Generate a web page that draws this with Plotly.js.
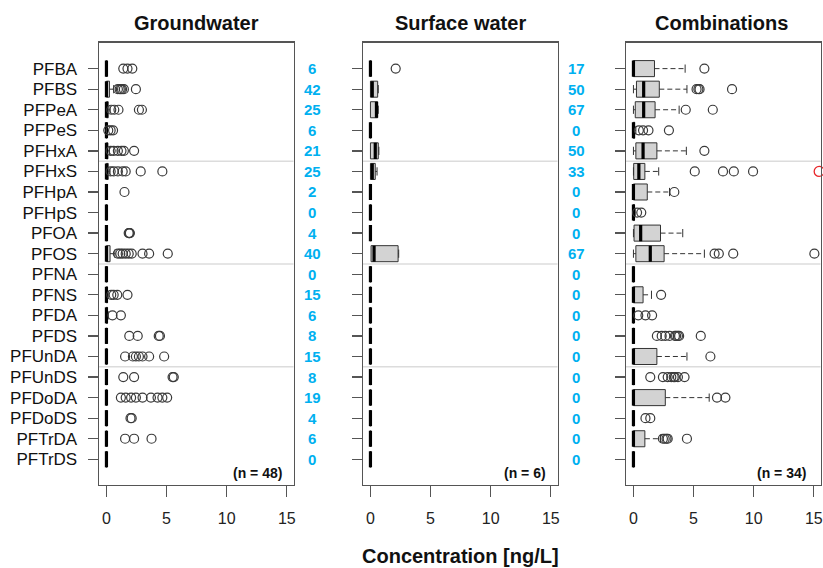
<!DOCTYPE html>
<html><head><meta charset="utf-8">
<script src="https://cdn.plot.ly/plotly-3.0.1.min.js"></script>
<style>html,body{margin:0;padding:0;background:#fff}#chart{width:823px;height:568px}</style>
</head><body><div id="chart"></div>
<script>
// ---------- DATA ----------
const compounds = ["PFBA","PFBS","PFPeA","PFPeS","PFHxA","PFHxS","PFHpA","PFHpS","PFOA","PFOS",
  "PFNA","PFNS","PFDA","PFDS","PFUnDA","PFUnDS","PFDoDA","PFDoDS","PFTrDA","PFTrDS"];
const panelTitles = ["Groundwater","Surface water","Combinations"];
const sampleSizes = ["(n = 48)","(n = 6)","(n = 34)"];
const xTicks = [0,5,10,15];

// detection frequencies [%]
const gwPct = [6,42,25,6,21,25,2,0,4,40,0,15,6,8,15,8,19,4,6,0];
const swPct = [17,50,67,0,50,33,0,0,0,67,0,0,0,0,0,0,0,0,0,0];

// Groundwater box statistics
const gwQ1  = [0,0,0,0,0,0,0,0,0,0,0,0,0,0,0,0,0,0,0,0];
const gwMed = [0,0,0,0,0,0,0,0,0,0,0,0,0,0,0,0,0,0,0,0];
const gwQ3  = [0,0.25,0.15,0,0.12,0.15,0,0,0,0.3,0,0.08,0.08,0,0,0,0,0,0,0];
const gwLo  = [0,0,0,0,0,0,0,0,0,0,0,0,0,0,0,0,0,0,0,0];
const gwHi  = [0,0.6,0.3,0,0.25,0.3,0,0,0,0.7,0,0.15,0.15,0,0,0,0,0,0,0];
const gwOut = [
  [1.4,1.75,2.15],[0.95,1.1,1.2,1.3,1.45,2.45],[0.4,0.65,1.0,2.7,2.95],[0.15,0.35,0.55],
  [0.35,0.6,0.95,1.25,1.45,2.3],[0.35,0.6,0.95,1.35,1.6,2.85,4.65],[1.5],[],[1.85,1.9,1.95],
  [0.95,1.15,1.35,1.6,1.85,2.1,3.0,3.55,5.1],[],[0.4,0.6,0.9,1.75],[0.5,1.2],[1.9,2.6,4.35,4.45],
  [1.55,2.2,2.45,2.7,3.0,3.55,4.8],[1.4,2.3,5.5,5.6],[1.2,1.6,2.05,2.45,3.0,3.7,4.25,4.65,5.05],
  [2.0,2.1],[1.55,2.3,3.75],[]];

// Surface water box statistics
const swQ1  = [0,0,0,0,0,0,0,0,0,0.05,0,0,0,0,0,0,0,0,0,0];
const swMed = [0,0.15,0.5,0,0.4,0.15,0,0,0,0.3,0,0,0,0,0,0,0,0,0,0];
const swQ3  = [0,0.6,0.6,0,0.65,0.4,0,0,0,2.3,0,0,0,0,0,0,0,0,0,0];
const swLo  = [0,0,0,0,0,0,0,0,0,0.05,0,0,0,0,0,0,0,0,0,0];
const swHi  = [0,0.65,0.65,0,0.7,0.55,0,0,0,2.35,0,0,0,0,0,0,0,0,0,0];
const swOut = [[2.1],[],[],[],[],[],[],[],[],[],[],[],[],[],[],[],[],[],[],[]];

// Combinations box statistics
const cbQ1  = [0,0.25,0.15,0,0.2,0.02,0,0,0.05,0.2,0,0,0,0,0,0,0,0,0,0];
const cbMed = [0,0.85,0.85,0,0.8,0.45,0,0,0.6,1.4,0,0,0,0,0,0,0,0,0,0];
const cbQ3  = [1.75,2.15,1.8,0.1,1.95,0.95,1.15,0.08,2.25,2.55,0,0.8,0,0,1.95,0,2.65,0,0.95,0];
const cbLo  = [0,0,0,0,0,0,0,0,0,0,0,0,0,0,0,0,0,0,0,0];
const cbHi  = [4.3,4.45,3.8,0.2,4.4,2.1,3.0,0.15,4.1,5.9,0,1.5,0,0,4.45,0,6.3,0,2.25,0];
const cbOut = [
  [5.9],[5.25,5.4,5.5,8.2],[4.35,6.6],[0.45,0.8,1.25,2.95],[5.9],[5.1,7.45,8.35,9.95],[3.4],
  [0.3,0.65],[],[6.75,7.1,8.3,15.05],[],[2.3],[0.4,1.0,1.55],
  [1.95,2.35,2.65,3.0,3.45,3.55,3.7,3.8,5.6],[6.4],[1.4,2.45,2.85,3.15,3.35,3.45,3.7,4.25],
  [6.95,7.65],[1.0,1.4],[2.45,2.6,2.75,2.85,4.45],[]];
const cbFlagCompound = "PFHxS";
const cbFlagValue = 15.45;

// ---------- DRAWING ----------
const W = 823, H = 568;
const FONT = "Liberation Sans, Arial, Helvetica, sans-serif";
const idx = compounds.map((_, i) => i);
const BOXW = 0.78, CAPW = 0.2;
const panelsPx = [[99, 293.5], [363, 557.5], [626, 820.5]];
const yTopPx = 42.5, yBotPx = 485;

function panelTraces(q1, med, q3, lo, hi, outs, s) {
  const xa = 'x' + s, ya = 'y' + s;
  const tr = [];
  tr.push({type:'box', orientation:'h', y: idx, q1: q1, median: med, q3: q3,
    lowerfence: q1, upperfence: q3, width: BOXW, whiskerwidth: 0, boxpoints: false,
    fillcolor: '#D3D3D3', line: {color: '#333', width: 1},
    xaxis: xa, yaxis: ya, hoverinfo: 'skip', showlegend: false});
  // dashed whiskers
  const wx = [], wy = [], cx = [], cy = [];
  idx.forEach(i => {
    if (hi[i] > q3[i]) { wx.push(q3[i], hi[i], null); wy.push(i, i, null);
      cx.push(hi[i], hi[i], null); cy.push(i - CAPW, i + CAPW, null); }
    if (lo[i] < q1[i]) { wx.push(lo[i], q1[i], null); wy.push(i, i, null);
      cx.push(lo[i], lo[i], null); cy.push(i - CAPW, i + CAPW, null); }
  });
  tr.push({type:'scatter', mode:'lines', x: wx, y: wy, line:{color:'#333', width:1, dash:'5px,3px'},
    xaxis: xa, yaxis: ya, hoverinfo:'skip', showlegend:false});
  tr.push({type:'scatter', mode:'lines', x: cx, y: cy, line:{color:'#333', width:1},
    xaxis: xa, yaxis: ya, hoverinfo:'skip', showlegend:false});
  // thick medians
  const mx = [], my = [];
  idx.forEach(i => { mx.push(med[i], med[i], null); my.push(i - BOXW/2, i + BOXW/2, null); });
  tr.push({type:'scatter', mode:'lines', x: mx, y: my, line:{color:'#000', width:3.2},
    xaxis: xa, yaxis: ya, hoverinfo:'skip', showlegend:false});
  // outliers
  const ox = [], oy = [];
  outs.forEach((arr, i) => arr.forEach(v => { ox.push(v); oy.push(i); }));
  tr.push({type:'scatter', mode:'markers', x: ox, y: oy,
    marker:{symbol:'circle-open', size:9, color:'#3a3a3a', line:{width:1.2, color:'#3a3a3a'}},
    xaxis: xa, yaxis: ya, hoverinfo:'skip', showlegend:false});
  return tr;
}

const data = [].concat(
  panelTraces(gwQ1, gwMed, gwQ3, gwLo, gwHi, gwOut, ''),
  panelTraces(swQ1, swMed, swQ3, swLo, swHi, swOut, '2'),
  panelTraces(cbQ1, cbMed, cbQ3, cbLo, cbHi, cbOut, '3')
);
data.push({type:'scatter', mode:'markers', x:[cbFlagValue], y:[compounds.indexOf(cbFlagCompound)],
  marker:{symbol:'circle-open', size:10, color:'#e8262a', line:{width:1.3, color:'#e8262a'}},
  cliponaxis:false, xaxis:'x3', yaxis:'y3', hoverinfo:'skip', showlegend:false});

const layout = {width: W, height: H, margin:{l:0, r:0, t:0, b:0},
  paper_bgcolor:'#fff', plot_bgcolor:'#fff', showlegend:false,
  font:{family: FONT, color:'#111'}, annotations: [], shapes: []};

const yDom = [1 - yBotPx / H, 1 - yTopPx / H];
['', '2', '3'].forEach((s, p) => {
  layout['xaxis' + s] = {domain:[panelsPx[p][0] / W, panelsPx[p][1] / W], range:[-0.62, 15.56],
    anchor:'y' + s, tickvals: xTicks, ticks:'outside', ticklen:11, tickwidth:1.3, tickcolor:'#555',
    showline:true, mirror:true, linecolor:'#555', linewidth:1.4, showgrid:false, zeroline:false,
    tickfont:{size:16, color:'#222'}, ticklabelstandoff:7, fixedrange:true};
  layout['yaxis' + s] = {domain: yDom, range:[20.25, -1.27], anchor:'x' + s,
    tickvals: idx, ticktext: compounds, showticklabels: p === 0, ticks:'outside', ticklen:10,
    tickwidth:1.3, tickcolor:'#555', showline:true, mirror:true, linecolor:'#555', linewidth:1.4,
    showgrid:false, zeroline:false, tickfont:{size:17, color:'#111'}, ticklabelstandoff:7,
    fixedrange:true};
  // separators
  [4.5, 9.5, 14.5].forEach(yv => layout.shapes.push({type:'line', xref:'x' + s + ' domain',
    yref:'y' + s, x0:0, x1:1, y0:yv, y1:yv, line:{color:'#dcdcdc', width:1.5}, layer:'below'}));
});

// panel titles
const titleX = [196.7, 460, 721];
panelTitles.forEach((t, p) => layout.annotations.push({text:'<b>' + t + '</b>', xref:'paper',
  yref:'paper', x: titleX[p] / W, y: 1 - 22.7 / H, xanchor:'center', yanchor:'middle',
  showarrow:false, font:{size:20, color:'#111', family: FONT}}));
// sample sizes
const nRight = [0.951, 0.953, 0.937];
const xrefs = ['x', 'x2', 'x3'];
sampleSizes.forEach((t, p) => layout.annotations.push({text:'<b>' + t + '</b>',
  xref: xrefs[p] + ' domain', yref:'paper', x: nRight[p], y: 1 - 473 / H, xanchor:'right',
  yanchor:'middle', showarrow:false, font:{size:14, color:'#111', family: FONT}}));
// detection frequencies
const pctX = [312.4, 576];
[gwPct, swPct].forEach((arr, c) => arr.forEach((v, i) => layout.annotations.push({
  text:'<b>' + v + '</b>', xref:'paper', yref:'y', x: pctX[c] / W, y: i, xanchor:'center',
  yanchor:'middle', showarrow:false, font:{size:15, color:'#00B0F0', family: FONT}})));
// x title
layout.annotations.push({text:'<b>Concentration [ng/L]</b>', xref:'paper', yref:'paper',
  x: 460 / W, y: 1 - 556 / H, xanchor:'center', yanchor:'middle', showarrow:false,
  font:{size:20, color:'#111', family: FONT}});

Plotly.newPlot('chart', data, layout, {displayModeBar:false, staticPlot:true});
</script></body></html>
